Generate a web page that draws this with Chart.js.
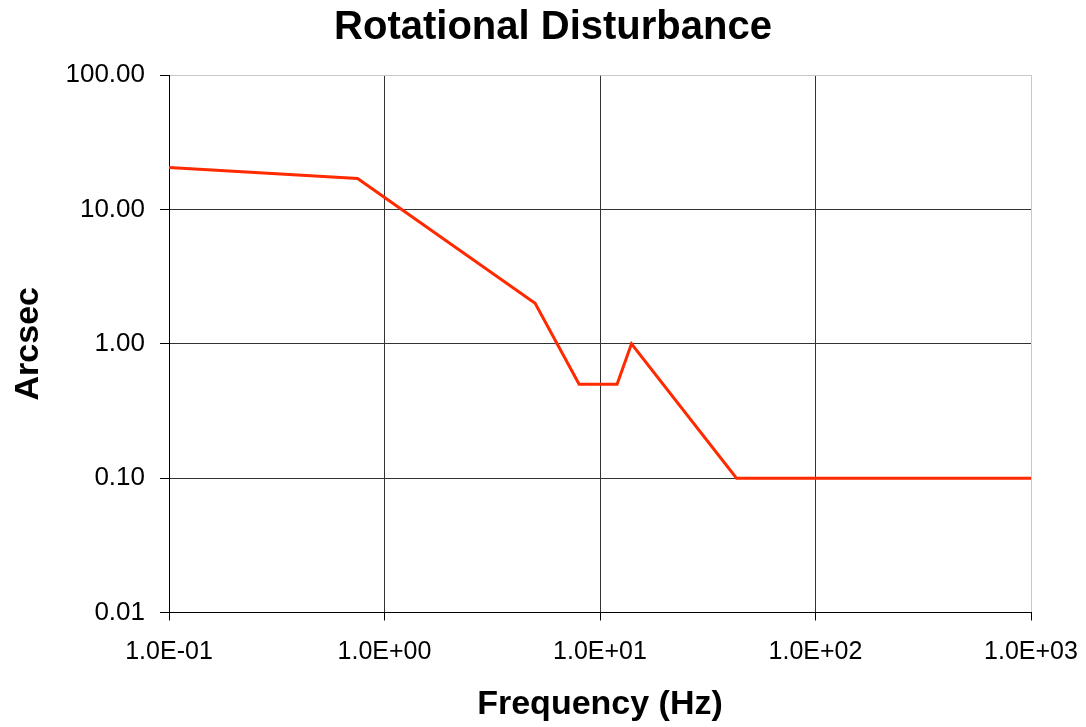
<!DOCTYPE html>
<html>
<head>
<meta charset="utf-8">
<title>Rotational Disturbance</title>
<script src="https://cdn.jsdelivr.net/npm/chart.js@4/dist/chart.umd.min.js"></script>
<style>
  html, body { margin: 0; padding: 0; background: #fff; }
  #wrap { width: 1086px; height: 727px; }
</style>
</head>
<body>
<div id="wrap"><canvas id="chart"></canvas></div>
<script>
const chartTitle = 'Rotational Disturbance';
const xTitle = 'Frequency (Hz)';
const yTitle = 'Arcsec';

const freqHz = [0.1, 0.75, 5, 8, 12, 14, 43, 1000];
const arcsec = [20.5, 17, 2, 0.5, 0.5, 1, 0.1, 0.1];

const xTicks = [0.1, 1, 10, 100, 1000];
const yTicks = [0.01, 0.1, 1, 10, 100];

const FONT = '"Liberation Sans", Arial, sans-serif';

function sci(v) {
  const e = Math.round(Math.log10(v));
  const m = v / Math.pow(10, e);
  return m.toFixed(1) + 'E' + (e < 0 ? '-' : '+') + String(Math.abs(e)).padStart(2, '0');
}

// main title drawn by hand, the original sits a bit right of centre
const titlePlugin = {
  id: 'mainTitle',
  afterDraw(chart) {
    const c = chart.ctx;
    c.save();
    c.fillStyle = '#000';
    c.textAlign = 'center';
    c.textBaseline = 'middle';
    c.font = 'bold 40px ' + FONT;
    c.fillText(chartTitle, 553, 28);
    c.restore();
  }
};

new Chart(document.getElementById('chart'), {
  type: 'line',
  data: {
    datasets: [{
      label: 'Arcsec',
      data: freqHz.map((f, i) => ({x: f, y: arcsec[i]})),
      borderColor: '#ff2a00',
      borderWidth: 3,
      pointRadius: 0,
      tension: 0,
      fill: false
    }]
  },
  options: {
    responsive: true,
    maintainAspectRatio: false,
    animation: false,
    layout: { padding: {top: 75, right: 55, left: 0, bottom: 0} },
    plugins: {
      legend: { display: false },
      tooltip: { enabled: false }
    },
    scales: {
      x: {
        type: 'logarithmic',
        min: 0.1,
        max: 1000,
        afterBuildTicks: s => { s.ticks = xTicks.map(v => ({value: v})); },
        afterFit: s => { s.height = 114.5; s.paddingLeft = 0; s.paddingRight = 0; },
        border: { color: '#000', width: 1 },
        grid: {
          color: ctx => ctx.tick && ctx.tick.value === 1000 ? '#c8c8c8' : '#333',
          tickColor: '#000',
          tickLength: 8
        },
        ticks: {
          autoSkip: false,
          maxRotation: 0,
          padding: 17,
          color: '#000',
          font: { family: FONT, size: 25 },
          callback: v => sci(v)
        },
        title: {
          display: true,
          text: xTitle,
          color: '#000',
          font: { family: FONT, size: 34, weight: 'bold' },
          padding: { top: 0, bottom: 2 }
        }
      },
      y: {
        type: 'logarithmic',
        min: 0.01,
        max: 100,
        afterBuildTicks: s => { s.ticks = yTicks.map(v => ({value: v})); },
        afterFit: s => { s.width = 169; },
        border: { color: '#000', width: 1 },
        grid: {
          color: ctx => ctx.tick && ctx.tick.value === 100 ? '#c8c8c8' : '#333',
          tickColor: '#000',
          tickLength: 9
        },
        ticks: {
          autoSkip: false,
          padding: 15,
          color: '#000',
          font: { family: FONT, size: 26 },
          callback: v => v.toFixed(2)
        },
        title: {
          display: true,
          text: yTitle,
          color: '#000',
          font: { family: FONT, size: 34, weight: 'bold' },
          padding: { top: 8, bottom: 0 }
        }
      }
    }
  },
  plugins: [titlePlugin]
});
</script>
</body>
</html>
